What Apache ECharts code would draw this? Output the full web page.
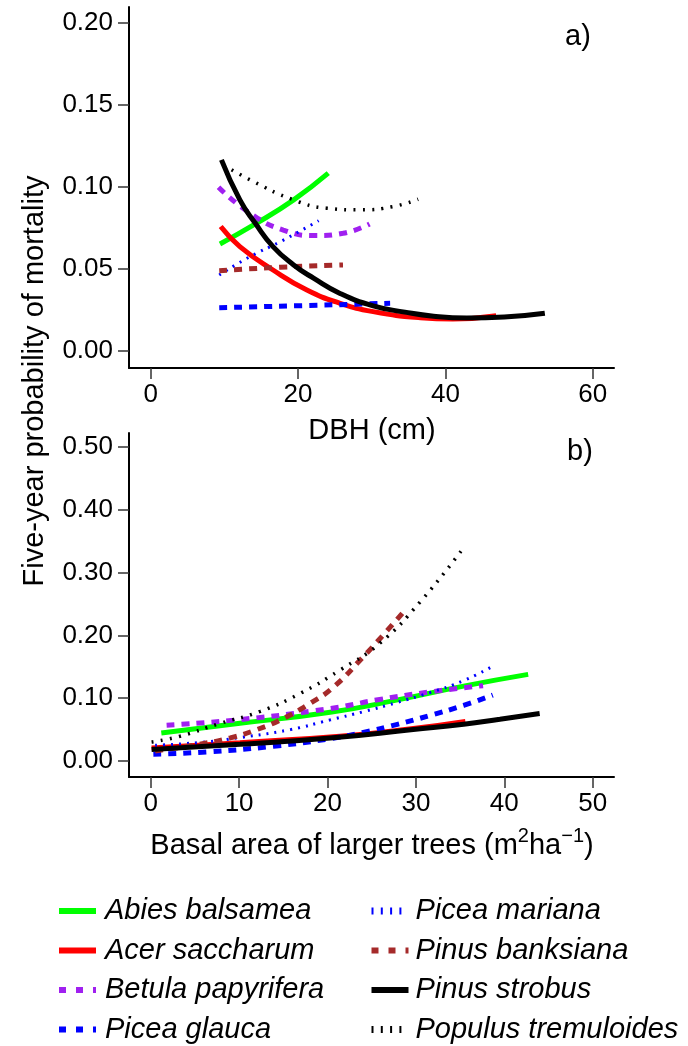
<!DOCTYPE html>
<html>
<head>
<meta charset="utf-8">
<script src="https://cdn.jsdelivr.net/npm/echarts@6/dist/echarts.min.js"></script>
<style>
html,body{margin:0;padding:0;background:#fff;}
#chart{width:688px;height:1046px;}
</style>
</head>
<body>
<div id="chart"></div>
<script>
// ---------- data ----------
const speciesNames = ['Abies balsamea','Acer saccharum','Betula papyrifera','Picea glauca',
  'Picea mariana','Pinus banksiana','Pinus strobus','Populus tremuloides'];

// panel a: DBH (cm) vs five-year probability of mortality
const dbhAbies   = [[9.4,0.0653],[14.2,0.0775],[19.4,0.0922],[24.1,0.1085]];
const dbhAcer    = [[9.5,0.0759],[12.1,0.0637],[16.6,0.0494],[21.2,0.0372],[25.7,0.0291],[30.2,0.0240],[36.6,0.0203],[41.0,0.0195],[46.9,0.0215]];
const dbhBetula  = [[9.2,0.0999],[13.5,0.0840],[18.0,0.0738],[22.5,0.0704],[26.1,0.0718],[29.7,0.0775]];
const dbhGlauca  = [[9.3,0.0264],[20.9,0.0277],[32.5,0.0291]];
const dbhMariana = [[9.3,0.0464],[13.5,0.0576],[17.6,0.0667],[22.8,0.0795]];
const dbhBanks   = [[9.3,0.0490],[17.6,0.0511],[26.1,0.0525]];
const dbhStrobus = [[9.6,0.1166],[12.1,0.0922],[14.2,0.0779],[16.6,0.0637],[19.4,0.0525],[22.1,0.0444],[25.7,0.0351],[30.2,0.0275],[34.5,0.0237],[38.4,0.0212],[42.9,0.0201],[48.0,0.0207],[53.5,0.0230]];
const dbhPopulus = [[9.9,0.1135],[13.5,0.1044],[19.4,0.0922],[23.9,0.0871],[28.4,0.0861],[32.9,0.0881],[36.3,0.0926]];

// panel b: basal area of larger trees vs probability
const baAbies   = [[1.2,0.0447],[10.1,0.0600],[20.3,0.0775],[27.8,0.0969],[35.4,0.1192],[42.7,0.1379]];
const baAcer    = [[0.1,0.0205],[10.1,0.0292],[21.4,0.0395],[29.7,0.0517],[35.6,0.0630]];
const baBetula  = [[1.8,0.0570],[10.1,0.0660],[20.3,0.0836],[25.9,0.0980],[31.6,0.1100],[37.6,0.1200]];
const baGlauca  = [[0.3,0.0107],[6.3,0.0144],[13.9,0.0235],[20.5,0.0360],[24.05,0.0455],[27.8,0.0580],[31.6,0.0725],[35.4,0.0885],[38.7,0.1050]];
const baMariana = [[0.5,0.0250],[6.3,0.0303],[10.1,0.0373],[15.8,0.0500],[20.3,0.0655],[24.05,0.0785],[27.8,0.0930],[31.6,0.1090],[35.4,0.1280],[38.7,0.1510]];
const baBanks   = [[0.5,0.0160],[5.2,0.0260],[9.0,0.0367],[12.0,0.0500],[15.0,0.0676],[18.0,0.0916],[20.7,0.1180],[24.05,0.1660],[26.3,0.2006],[28.8,0.2405]];
const baStrobus = [[0.1,0.0182],[10.1,0.0265],[20.3,0.0365],[29.7,0.0501],[35.4,0.0585],[39.5,0.0665],[44.0,0.0756]];
const baPopulus = [[0.1,0.0303],[3.3,0.0394],[7.8,0.0597],[12.4,0.0790],[16.9,0.1075],[21.4,0.1447],[25.9,0.1873],[30.5,0.2537],[35.2,0.3360]];

// tick labels
const dbhTicks   = [0,20,40,60];
const probTicksA = [0,0.05,0.10,0.15,0.20];
const baTicks    = [0,10,20,30,40,50];
const probTicksB = [0,0.1,0.2,0.3,0.4,0.5];

// ---------- styles ----------
const FONT = '"Liberation Sans", Arial, Helvetica, sans-serif';
const styles = [
  {color:'#00FF00', width:5, type:'solid'},
  {color:'#FF0000', width:5, type:'solid'},
  {color:'#A020F0', width:5, type:[8,7]},
  {color:'#0000FF', width:5, type:[8,7]},
  {color:'#0000FF', width:3, type:[2,6]},
  {color:'#A52A2A', width:5, type:[8,7]},
  {color:'#000000', width:5, type:'solid'},
  {color:'#000000', width:3.5, type:[2,7.3]}
];
const legendStyles = [
  {width:6, type:'solid'},
  {width:6, type:'solid'},
  {width:6, type:[7,10]},
  {width:6, type:[7,10]},
  {width:7, type:[2,7.3]},
  {width:6, type:[7,10]},
  {width:6, type:'solid'},
  {width:7, type:[2,7.3]}
];
const dataA = [dbhAbies,dbhAcer,dbhBetula,dbhGlauca,dbhMariana,dbhBanks,dbhStrobus,dbhPopulus];
const dataB = [baAbies,baAcer,baBetula,baGlauca,baMariana,baBanks,baStrobus,baPopulus];

const series = [];
function addSeries(data, gi) {
  data.forEach((d, i) => {
    series.push({
      name: speciesNames[i], type: 'line', xAxisIndex: gi, yAxisIndex: gi,
      data: d, smooth: 0.5, symbol: 'none', showSymbol: false, silent: true,
      color: styles[i].color,
      lineStyle: {color: styles[i].color, width: styles[i].width, type: styles[i].type, cap: 'butt'},
      z: 2 + i
    });
  });
}
addSeries(dataA, 0);
addSeries(dataB, 1);

const axisLine = {show:true, onZero:false, lineStyle:{color:'#000', width:2}};
const tickStyle = {lineStyle:{color:'#333', width:1.5}, length:11};
function xAxis(gi, min, max, ticks) {
  return {
    type:'value', gridIndex:gi, min:min, max:max,
    axisLine: axisLine,
    axisTick: Object.assign({show:true, customValues: ticks}, tickStyle),
    axisLabel: {customValues: ticks, fontSize:26, fontFamily:FONT, color:'#000', margin:14},
    splitLine:{show:false}
  };
}
function yAxis(gi, min, max, ticks) {
  return {
    type:'value', gridIndex:gi, min:min, max:max,
    axisLine: axisLine,
    axisTick: Object.assign({show:true, customValues: ticks}, tickStyle),
    axisLabel: {customValues: ticks, fontSize:26, fontFamily:FONT, color:'#000', margin:16,
      formatter: v => v.toFixed(2)},
    splitLine:{show:false}
  };
}

function legendData(idx) {
  return idx.map(i => ({name: speciesNames[i],
    itemStyle: {opacity: 0, borderWidth: 0},
    lineStyle: Object.assign({color: styles[i].color, cap:'butt', opacity:1}, legendStyles[i])}));
}
function legend(left, idx, padLeft) {
  return {
    orient:'vertical', left:left, top:896, padding:0,
    itemWidth:37, itemHeight:14, itemGap:9.5, selectedMode:false,
    data: legendData(idx),
    textStyle:{fontSize:29, fontStyle:'italic', fontFamily:FONT, color:'#000', lineHeight:30,
      padding:[0,0,0,padLeft]}
  };
}

const chart = echarts.init(document.getElementById('chart'), null, {renderer:'canvas'});
chart.setOption({
  animation:false,
  backgroundColor:'#fff',
  grid:[
    {left:129, top:7, width:485, height:361},
    {left:129, top:433, width:485, height:344}
  ],
  xAxis:[ xAxis(0, -2.95, 62.89, dbhTicks), xAxis(1, -2.455, 52.41, baTicks) ],
  yAxis:[ yAxis(0, -0.0104, 0.2099, probTicksA), yAxis(1, -0.0255, 0.5224, probTicksB) ],
  legend:[ legend(56, [0,1,2,3], 4), legend(368, [4,5,6,7], 2) ],
  graphic:[
    {type:'text', x:565, y:37, style:{text:'a)', fontSize:29, fontFamily:FONT, fill:'#000', align:'left', verticalAlign:'middle'}},
    {type:'text', x:567, y:452, style:{text:'b)', fontSize:29, fontFamily:FONT, fill:'#000', align:'left', verticalAlign:'middle'}},
    {type:'text', x:372, y:431, style:{text:'DBH (cm)', fontSize:29, fontFamily:FONT, fill:'#000', align:'center', verticalAlign:'middle'}},
    {type:'text', x:372, y:846, style:{text:'Basal area of larger trees (m{sup|2}ha{sup|\u22121})',
      fontSize:29, fontFamily:FONT, fill:'#000', align:'center', verticalAlign:'middle', lineHeight:40,
      rich:{sup:{fontSize:20, fontFamily:FONT, lineHeight:18, verticalAlign:'top', fill:'#000'}}}},
    {type:'text', x:35, y:381, rotation:Math.PI/2, style:{text:'Five-year probability of mortality', fontSize:29, fontFamily:FONT, fill:'#000', align:'center', verticalAlign:'middle'}}
  ],
  series: series
});
</script>
</body>
</html>
